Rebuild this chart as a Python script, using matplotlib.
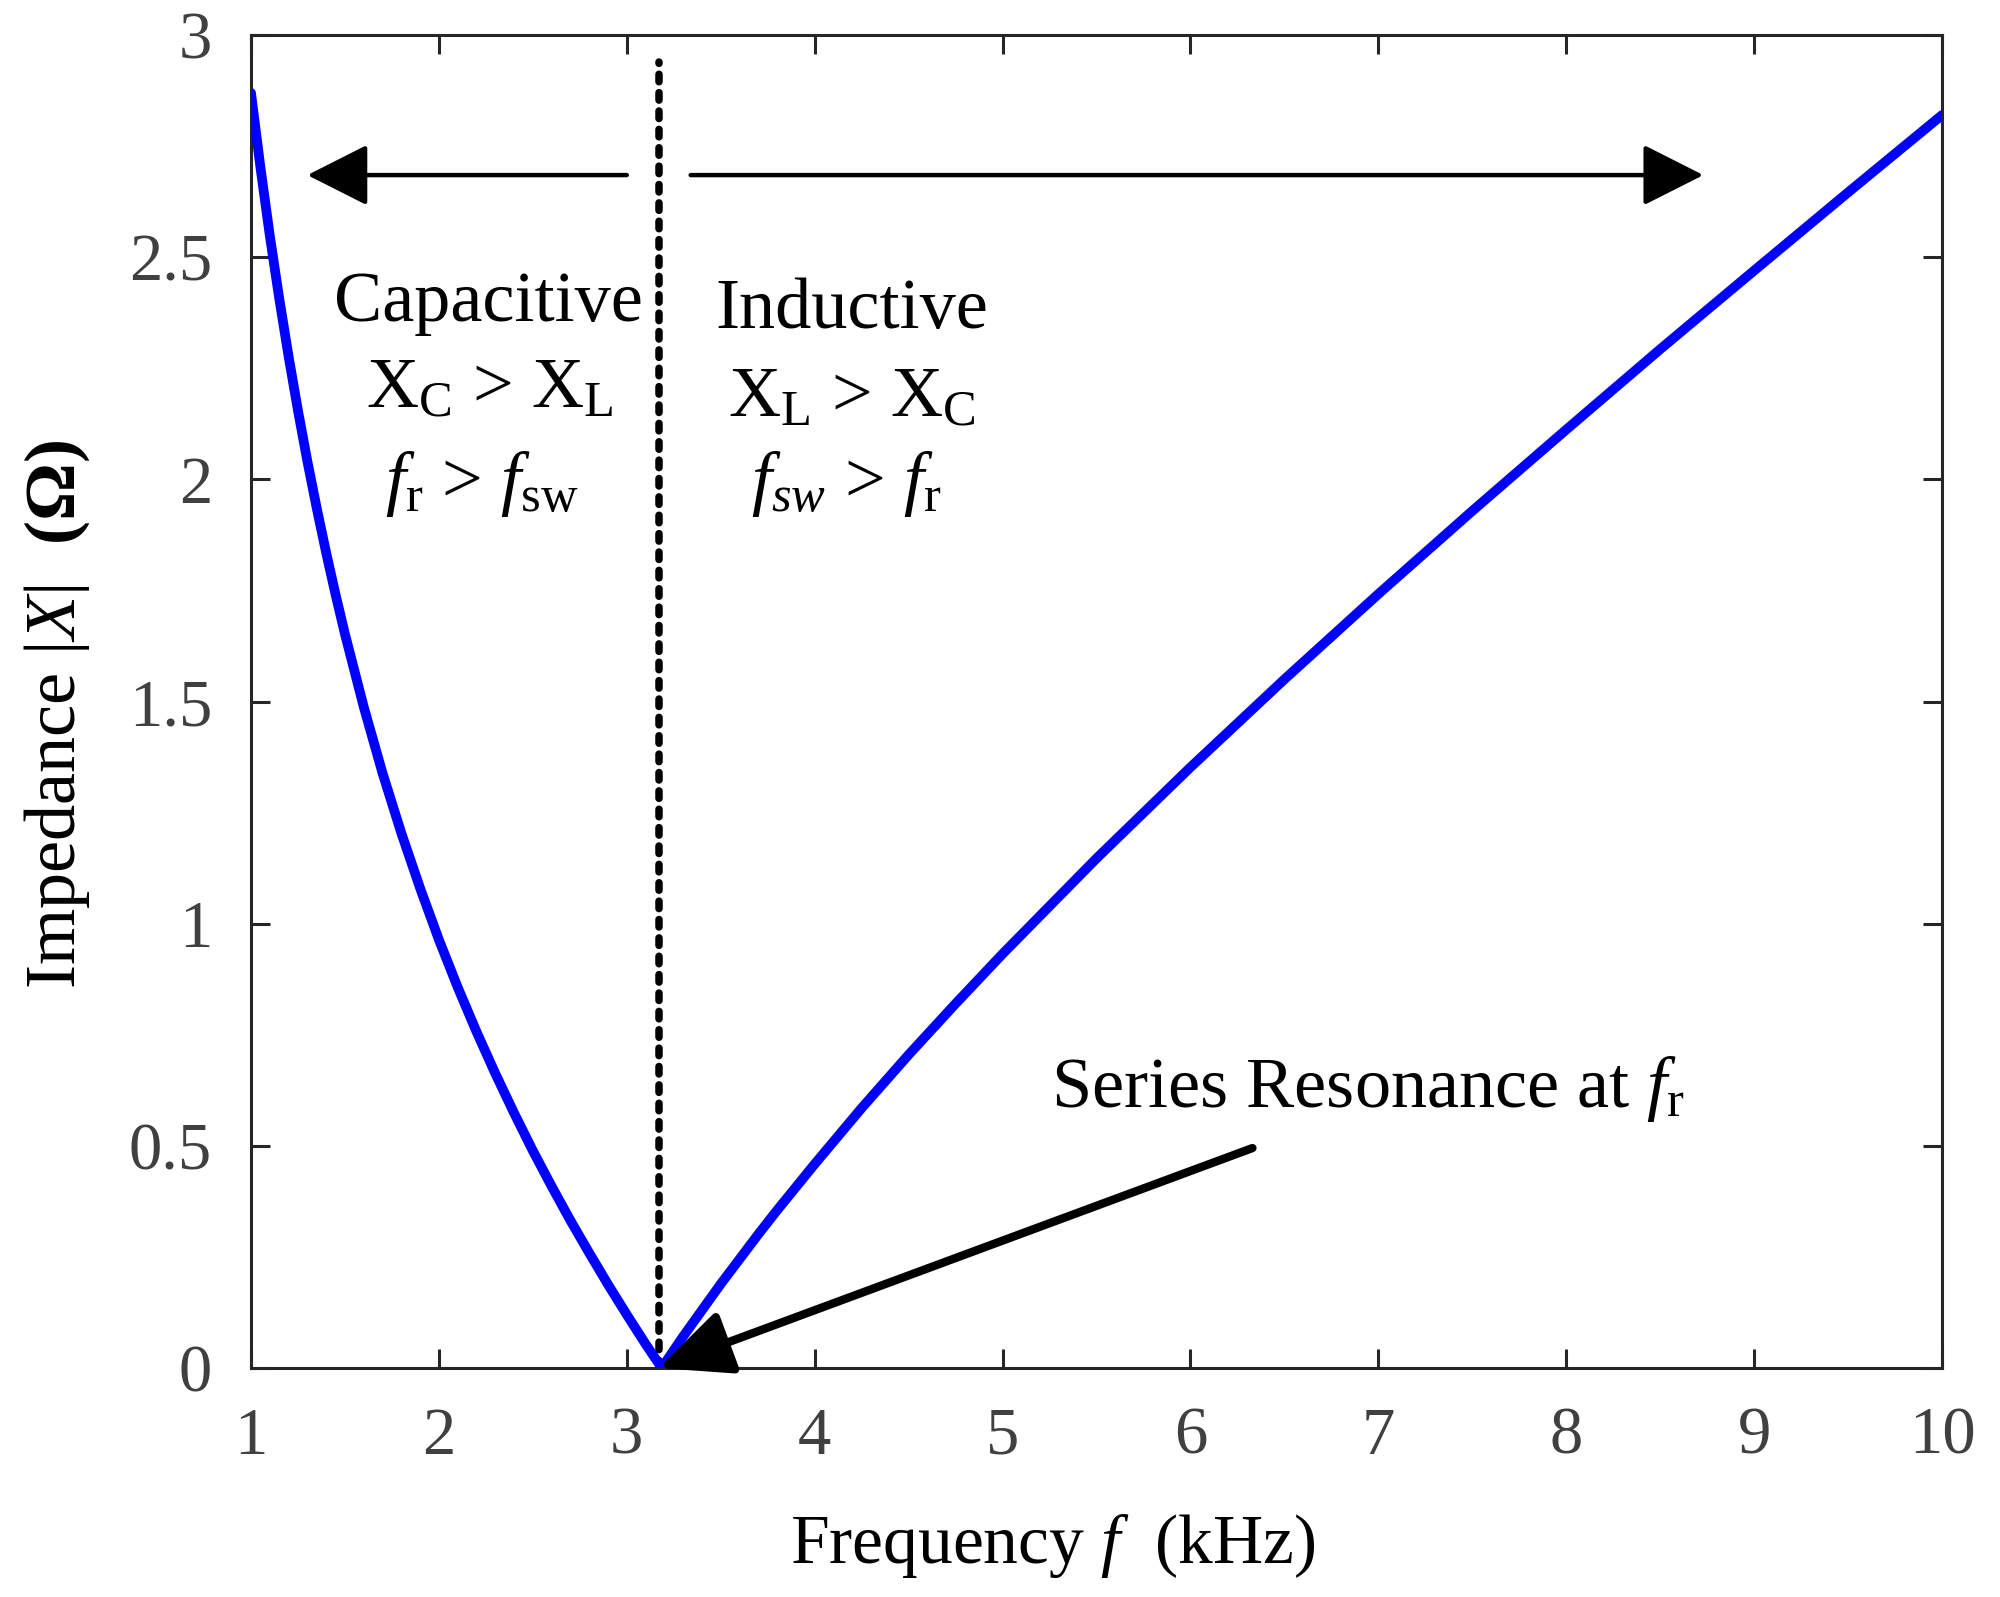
import matplotlib
matplotlib.use("Agg")
import matplotlib.pyplot as plt

# ---- data ----
freq_khz = [1.0, 1.05, 1.1, 1.15, 1.2, 1.25, 1.3, 1.35, 1.4, 1.45, 1.5, 1.6, 1.7,
            1.8, 1.9, 2.0, 2.1, 2.2, 2.3, 2.4, 2.5, 2.6, 2.7, 2.8, 2.9, 3.0, 3.1,
            3.186, 3.3, 3.4, 3.5, 3.6, 3.7, 3.8, 4.0, 4.25, 4.5, 4.75, 5.0, 5.5,
            6.0, 6.5, 7.0, 7.5, 8.0, 8.5, 9.0, 9.5, 10.0]
impedance = [2.870, 2.703, 2.549, 2.408, 2.277, 2.155, 2.041, 1.935, 1.835, 1.741,
             1.652, 1.488, 1.339, 1.204, 1.080, 0.964, 0.857, 0.757, 0.663, 0.574,
             0.489, 0.409, 0.332, 0.259, 0.188, 0.120, 0.054, 0.0, 0.071, 0.130,
             0.189, 0.245, 0.301, 0.355, 0.459, 0.585, 0.705, 0.820, 0.932, 1.147,
             1.352, 1.550, 1.742, 1.929, 2.112, 2.293, 2.470, 2.646, 2.820]
f_res = 3.17
x_ticks = [1, 2, 3, 4, 5, 6, 7, 8, 9, 10]
y_ticks = [0, 0.5, 1, 1.5, 2, 2.5, 3]
y_tick_labels = ["0", "0.5", "1", "1.5", "2", "2.5", "3"]

plt.rcParams["font.family"] = ["Liberation Serif", "DejaVu Serif"]
plt.rcParams["mathtext.fontset"] = "custom"
plt.rcParams["mathtext.rm"] = "Liberation Serif"
plt.rcParams["mathtext.it"] = "Liberation Serif:italic"
plt.rcParams["mathtext.bf"] = "Liberation Serif:bold"

fig = plt.figure(figsize=(10, 7.985), dpi=200)
ax = fig.add_axes([0.1255, 0.1434, 0.8455, 0.8346])

ax.plot(freq_khz, impedance, color=(0, 0, 1), lw=3.5, solid_capstyle="round",
        solid_joinstyle="round", zorder=3)
ax.plot([f_res, f_res], [0, 2.94], color="black", lw=2.7,
        linestyle=(0, (1.0, 1.45)), dash_capstyle="round", zorder=2)

ax.set_xlim(1, 10)
ax.set_ylim(0, 3)
ax.set_xticks(x_ticks)
ax.set_xticklabels([str(t) for t in x_ticks])
ax.set_yticks(y_ticks)
ax.set_yticklabels(y_tick_labels)

for s in ax.spines.values():
    s.set_color("#262626")
    s.set_linewidth(1.1)
ax.tick_params(direction="in", length=7, width=1.1, colors="#262626",
               labelcolor="#404040", labelsize=24, pad=14,
               top=True, right=True)

ax.set_xlabel(r"Frequency $f$  (kHz)", fontsize=25)
ax.xaxis.set_label_coords(0.474, -0.108)
ax.set_ylabel(r"Impedance $|X|$  $\mathbf{(\Omega)}$", fontsize=26)
ax.yaxis.set_label_coords(-0.094, 0.49)

# horizontal arrows
ax.annotate("", xy=(1.30, 2.685), xytext=(3.0, 2.685),
            arrowprops=dict(arrowstyle="-|>,head_length=0.95,head_width=0.48",
                            mutation_scale=20, lw=1.6, color="black",
                            shrinkA=0, shrinkB=0))
ax.annotate("", xy=(8.73, 2.685), xytext=(3.34, 2.685),
            arrowprops=dict(arrowstyle="-|>,head_length=0.95,head_width=0.48",
                            mutation_scale=20, lw=1.6, color="black",
                            shrinkA=0, shrinkB=0))

# resonance arrow
ax.annotate("", xy=(f_res, 0.0), xytext=(6.33, 0.495),
            arrowprops=dict(arrowstyle="-|>,head_length=1.1,head_width=0.5",
                            mutation_scale=20, lw=3.0, color="black",
                            shrinkA=0, shrinkB=0))

tfs = 26
ax.text(2.265, 2.395, "Capacitive", fontsize=tfs, ha="center", va="center")
ax.text(2.27, 2.20, r"X$_\mathrm{C}$ > X$_\mathrm{L}$", fontsize=tfs, ha="center", va="center")
ax.text(2.23, 1.99, r"$f_\mathrm{r}$ > $f_\mathrm{sw}$", fontsize=tfs, ha="center", va="center")

ax.text(4.20, 2.38, "Inductive", fontsize=tfs, ha="center", va="center")
ax.text(4.20, 2.18, r"X$_\mathrm{L}$ > X$_\mathrm{C}$", fontsize=tfs, ha="center", va="center")
ax.text(4.17, 1.99, r"$f_{sw}$ > $f_\mathrm{r}$", fontsize=tfs, ha="center", va="center")

ax.text(5.26, 0.628, r"Series Resonance at $f_\mathrm{r}$", fontsize=tfs, ha="left", va="center")

fig.savefig("out.png", dpi=200, facecolor="white")
